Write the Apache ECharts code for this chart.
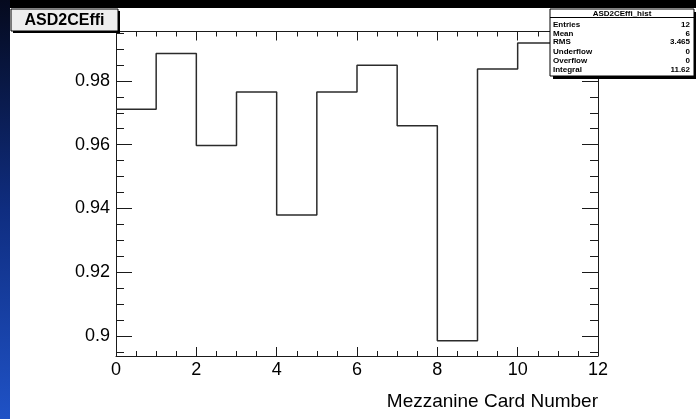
<!DOCTYPE html>
<html>
<head>
<meta charset="utf-8">
<script src="https://cdn.jsdelivr.net/npm/echarts@6/dist/echarts.min.js"></script>
<style>
html,body{margin:0;padding:0;background:#fff;}
#chart{width:696px;height:419px;}
</style>
</head>
<body>
<div id="chart"></div>
<script>
// ---- data ----
const binLowEdges = [0, 1, 2, 3, 4, 5, 6, 7, 8, 9, 10, 11];
const binWidth = 1;
const effValues = [0.9711, 0.9886, 0.9597, 0.9765, 0.9379, 0.9765, 0.9849, 0.9659, 0.8985, 0.9837, 0.9919, 0.985];
const yMajorTicks = [0.90, 0.92, 0.94, 0.96, 0.98];
const yMinorTicks = [0.895, 0.905, 0.91, 0.915, 0.925, 0.93, 0.935, 0.945, 0.95, 0.955, 0.965, 0.97, 0.975, 0.985, 0.99, 0.995];
const xRange = [0, 12];
const yRange = [0.8937, 0.9955];
const histTitle = 'ASD2CEffi';
const statsTitle = 'ASD2CEffi_hist';
const statsNames = ['Entries', 'Mean', 'RMS', 'Underflow', 'Overflow', 'Integral'];
const statsValues = ['12', '6', '3.465', '0', '0', '11.62'];
const xAxisTitle = 'Mezzanine Card Number';

// ---- build ----
const lastIdx = binLowEdges.length - 1;
const stepData = binLowEdges.map((x, i) => [x, effValues[i]]);
stepData.push([binLowEdges[lastIdx] + binWidth, effValues[lastIdx]]);

const FONT = 'Liberation Sans';
const AX = '#1a1a1a';

function yAxisDef(position, ticks, len, showLine, showLabels) {
  return {
    type: 'value', position: position, min: yRange[0], max: yRange[1],
    axisLine: {show: showLine, lineStyle: {color: AX, width: 1}},
    axisTick: {show: true, inside: true, length: len, customValues: ticks, lineStyle: {color: AX, width: 1}},
    axisLabel: showLabels ? {show: true, customValues: ticks, margin: 6, fontSize: 18, fontFamily: FONT, color: '#000'} : {show: false},
    splitLine: {show: false}
  };
}

const statsChildren = [];
statsChildren.push({type: 'rect', zlevel: 1, z: 100, shape: {x: 3, y: 3, width: 144, height: 67}, style: {fill: '#000'}});
statsChildren.push({type: 'rect', zlevel: 1, z: 101, shape: {x: 0, y: 0, width: 144, height: 67}, style: {fill: '#fff', stroke: '#000', lineWidth: 1}});
statsChildren.push({type: 'line', zlevel: 1, z: 102, shape: {x1: 0, y1: 8.5, x2: 144, y2: 8.5}, style: {stroke: '#000', lineWidth: 1}});
statsChildren.push({type: 'text', zlevel: 1, z: 102, x: 72, y: 4.5, style: {text: statsTitle, font: 'bold 8px "' + FONT + '"', fill: '#000', align: 'center', verticalAlign: 'middle'}});
const rowY = [15.5, 24.3, 33, 42.7, 52, 60.5];
statsNames.forEach((n, i) => {
  statsChildren.push({type: 'text', zlevel: 1, z: 102, x: 3, y: rowY[i], style: {text: n, font: 'bold 8px "' + FONT + '"', fill: '#000', align: 'left', verticalAlign: 'middle'}});
  statsChildren.push({type: 'text', zlevel: 1, z: 102, x: 140, y: rowY[i], style: {text: statsValues[i], font: 'bold 8px "' + FONT + '"', fill: '#000', align: 'right', verticalAlign: 'middle'}});
});

const chart = echarts.init(document.getElementById('chart'), null, {renderer: 'canvas'});
chart.setOption({
  animation: false,
  backgroundColor: '#ffffff',
  grid: {left: 116, right: 98, top: 31.5, bottom: 63, containLabel: false},
  xAxis: [
    {
      type: 'value', position: 'bottom', min: xRange[0], max: xRange[1], interval: 2,
      axisLine: {show: true, lineStyle: {color: AX, width: 1}},
      axisTick: {show: true, inside: true, length: 9, lineStyle: {color: AX, width: 1}},
      minorTick: {show: true, splitNumber: 4, length: 5, lineStyle: {color: AX, width: 1}},
      axisLabel: {show: true, margin: 5, fontSize: 18, fontFamily: FONT, color: '#000'},
      splitLine: {show: false},
      name: xAxisTitle, nameLocation: 'end', nameGap: 0,
      nameTextStyle: {fontSize: 19, fontFamily: FONT, color: '#000', align: 'right', verticalAlign: 'top', padding: [36, 0, 0, 0]}
    },
    {
      type: 'value', position: 'top', min: xRange[0], max: xRange[1], interval: 2,
      axisLine: {show: true, lineStyle: {color: AX, width: 1}},
      axisTick: {show: true, inside: true, length: 9, lineStyle: {color: AX, width: 1}},
      minorTick: {show: true, splitNumber: 4, length: 5, lineStyle: {color: AX, width: 1}},
      axisLabel: {show: false},
      splitLine: {show: false}
    }
  ],
  yAxis: [
    yAxisDef('left', yMajorTicks, 16, true, true),
    yAxisDef('left', yMinorTicks, 8, false, false),
    yAxisDef('right', yMajorTicks, 16, true, false),
    yAxisDef('right', yMinorTicks, 8, false, false)
  ],
  series: [{
    type: 'line', xAxisIndex: 0, yAxisIndex: 0, step: 'end', data: stepData,
    showSymbol: false, symbol: 'none', clip: true,
    lineStyle: {color: '#2b2b2b', width: 1.5}, z: 3
  }],
  graphic: [
    {type: 'rect', z: 1, shape: {x: 0, y: 0, width: 696, height: 8}, style: {fill: '#000'}},
    {type: 'rect', z: 1, shape: {x: 0, y: 0, width: 10, height: 419},
      style: {fill: {type: 'linear', x: 0, y: 0, x2: 0, y2: 1, colorStops: [{offset: 0, color: '#050a1e'}, {offset: 0.5, color: '#0f2d80'}, {offset: 1, color: '#1f52c6'}]}}},
    {type: 'group', zlevel: 1, z: 100, x: 11, y: 9, children: [
      {type: 'rect', zlevel: 1, z: 100, shape: {x: 2, y: 2, width: 107, height: 22}, style: {fill: '#000'}},
      {type: 'rect', zlevel: 1, z: 101, shape: {x: 0, y: 0, width: 107, height: 22}, style: {fill: '#eeeeee', stroke: '#000', lineWidth: 1}},
      {type: 'text', zlevel: 1, z: 102, x: 53.5, y: 11.5, style: {text: histTitle, font: 'bold 16px "' + FONT + '"', fill: '#000', align: 'center', verticalAlign: 'middle'}}
    ]},
    {type: 'group', zlevel: 1, z: 100, x: 550, y: 9, children: statsChildren}
  ]
});
</script>
</body>
</html>
